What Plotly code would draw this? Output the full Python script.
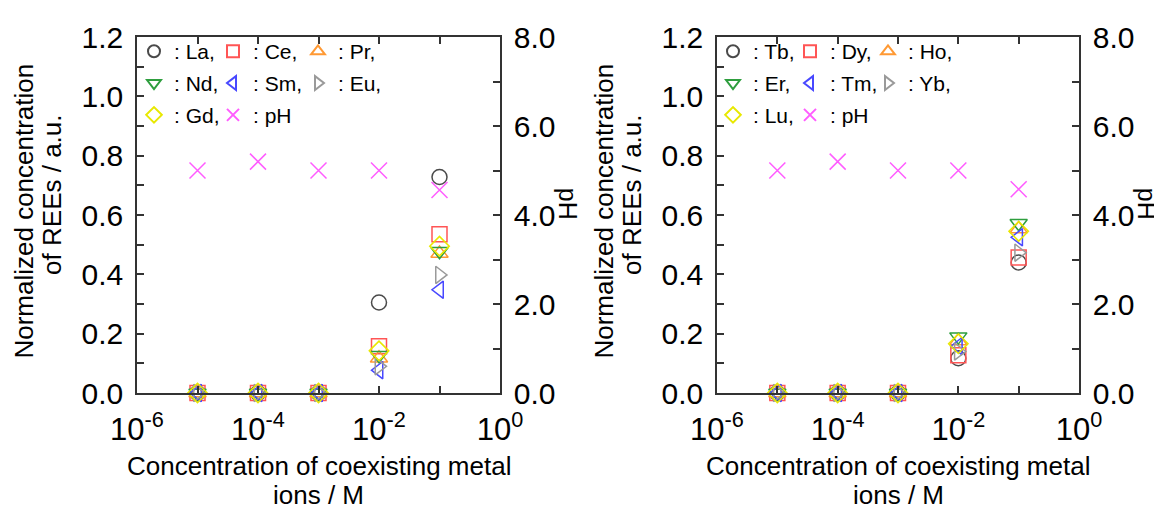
import plotly.graph_objects as go

# ---------------- data ----------------
conc = [1e-5, 1e-4, 1e-3, 1e-2, 1e-1]

left_names = ["La", "Ce", "Pr", "Nd", "Sm", "Eu", "Gd"]
La = [0, 0, 0, 0.305, 0.728]
Ce = [0, 0, 0, 0.158, 0.535]
Pr = [0, 0, 0, 0.117, 0.470]
Nd = [0, 0, 0, 0.127, 0.478]
Sm = [0, 0, 0, 0.077, 0.348]
Eu = [0, 0, 0, 0.090, 0.398]
Gd = [0, 0, 0, 0.142, 0.495]
pH_left = [5.0, 5.2, 5.0, 5.0, 4.56]

right_names = ["Tb", "Dy", "Ho", "Er", "Tm", "Yb", "Lu"]
Tb = [0, 0, 0, 0.117, 0.440]
Dy = [0, 0, 0, 0.127, 0.457]
Ho = [0, 0, 0, 0.175, 0.553]
Er = [0, 0, 0, 0.190, 0.572]
Tm = [0, 0, 0, 0.158, 0.525]
Yb = [0, 0, 0, 0.140, 0.473]
Lu = [0, 0, 0, 0.166, 0.545]
pH_right = [5.0, 5.2, 5.0, 5.0, 4.58]

x_tickvals = [1e-6, 1e-5, 1e-4, 1e-3, 1e-2, 1e-1, 1e0]
x_ticktext = ["10<sup>-6</sup>", "", "10<sup>-4</sup>", "", "10<sup>-2</sup>", "", "10<sup>0</sup>"]

# ---------------- style ----------------
FONT = "Arial, Liberation Sans, sans-serif"
symbols = ["circle-open", "square-open", "triangle-up-open", "triangle-down-open",
           "triangle-left-open", "triangle-right-open", "diamond-open"]
colors = ["#4a4a4a", "#ff5555", "#ff9933", "#2e9e3e", "#4848ff", "#9a9a9a", "#e8e800"]
PH_COLOR = "#ff5cff"
col_of = [0, 1, 2, 0, 1, 2, 0]
PH_COL = 1

L, R, T, B = 129, 1071, 22, 385
W, H = R - L, B - T


def fx(px):
    return (px - L) / W


def fy(py):
    return (B - py) / H


fig = go.Figure()

panels = [
    dict(names=left_names, series=[La, Ce, Pr, Nd, Sm, Eu, Gd], ph=pH_left,
         xa="x", ya="y", ya2="y2", leg=["legend", "legend2", "legend3"], tag="L"),
    dict(names=right_names, series=[Tb, Dy, Ho, Er, Tm, Yb, Lu], ph=pH_right,
         xa="x2", ya="y3", ya2="y4", leg=["legend4", "legend5", "legend6"], tag="R"),
]

for p in panels:
    for i, (nm, vals) in enumerate(zip(p["names"], p["series"])):
        fig.add_trace(go.Scatter(
            x=conc, y=vals, mode="markers", name=": " + nm + ",",
            xaxis=p["xa"], yaxis=p["ya"], cliponaxis=False,
            legend=p["leg"][col_of[i]], legendgroup=p["tag"] + nm,
            marker=dict(symbol=symbols[i], size=15, color=colors[i],
                        line=dict(color=colors[i], width=1.5)),
        ))
    fig.add_trace(go.Scatter(
        x=conc, y=p["ph"], mode="markers", name=": pH",
        xaxis=p["xa"], yaxis=p["ya2"], cliponaxis=False,
        legend=p["leg"][PH_COL], legendgroup=p["tag"] + "pH",
        marker=dict(symbol="x-thin", size=16, color=PH_COLOR,
                    line=dict(color=PH_COLOR, width=1.5)),
    ))

axis_common = dict(showline=True, linecolor="#333333", linewidth=1.5,
                   ticks="inside", ticklen=7, tickwidth=1.5, tickcolor="#333333",
                   showgrid=False, zeroline=False,
                   tickfont=dict(family=FONT, size=30, color="black"))

xcommon = dict(axis_common, type="log", range=[-6, 0], tickmode="array",
               tickvals=x_tickvals, ticktext=x_ticktext, mirror="ticks",
               ticklabelstandoff=8,
               tickfont=dict(family=FONT, size=31, color="black"))

d1 = [0, fx(492)]
d2 = [fx(709), 1]

ycommon = dict(axis_common, range=[0, 1.2], dtick=0.2, tick0=0, tickformat=".1f",
               ticklabelstandoff=6,
               minor=dict(dtick=0.1, ticks="inside", ticklen=7, tickwidth=1.5,
                          tickcolor="#333333"))
phcommon = dict(axis_common, range=[0, 8], dtick=2, tick0=0, tickformat=".1f",
                side="right", ticklabelstandoff=6,
                minor=dict(dtick=1, ticks="inside", ticklen=7, tickwidth=1.5,
                           tickcolor="#333333"))

fig.update_layout(
    width=1162, height=508,
    margin=dict(l=L, r=1162 - R, t=T, b=508 - B),
    paper_bgcolor="white", plot_bgcolor="white",
    font=dict(family=FONT, color="black"),
    xaxis=dict(xcommon, domain=d1, anchor="y"),
    yaxis=dict(ycommon, anchor="x"),
    yaxis2=dict(phcommon, anchor="x", overlaying="y"),
    xaxis2=dict(xcommon, domain=d2, anchor="y3"),
    yaxis3=dict(ycommon, anchor="x2"),
    yaxis4=dict(phcommon, anchor="x2", overlaying="y3"),
    showlegend=True,
)

leg_common = dict(orientation="v", bgcolor="rgba(0,0,0,0)", borderwidth=0,
                  font=dict(family=FONT, size=21, color="black"),
                  itemsizing="constant", xanchor="left", yanchor="top",
                  tracegroupgap=1.5, itemclick=False, itemdoubleclick=False)
left_cols = [126, 205, 290]
right_cols = [705, 782, 860]
for k, name in enumerate(["legend", "legend2", "legend3"]):
    fig.update_layout({name: dict(leg_common, x=fx(left_cols[k]), y=fy(16))})
for k, name in enumerate(["legend4", "legend5", "legend6"]):
    fig.update_layout({name: dict(leg_common, x=fx(right_cols[k]), y=fy(16))})

ann = []
title_font = dict(family=FONT, size=26, color="black")
for cx, phx in [(310.5, 560), (890, 1139)]:
    ann.append(dict(text="Concentration of coexisting metal", x=fx(cx), y=fy(459),
                    xref="paper", yref="paper", showarrow=False, font=title_font,
                    xanchor="center", yanchor="middle"))
    ann.append(dict(text="ions / M", x=fx(cx), y=fy(489),
                    xref="paper", yref="paper", showarrow=False, font=title_font,
                    xanchor="center", yanchor="middle"))
    ann.append(dict(text="pH", x=fx(phx), y=fy(192), textangle=90,
                    xref="paper", yref="paper", showarrow=False,
                    font=dict(family=FONT, size=25, color="black"),
                    xanchor="center", yanchor="middle"))
for lx in [0, 580]:
    ann.append(dict(text="Normalized concentration", x=fx(lx + 16), y=fy(200), textangle=-90,
                    xref="paper", yref="paper", showarrow=False, font=title_font,
                    xanchor="center", yanchor="middle"))
    ann.append(dict(text="of REEs / a.u.", x=fx(lx + 44), y=fy(183), textangle=-90,
                    xref="paper", yref="paper", showarrow=False, font=title_font,
                    xanchor="center", yanchor="middle"))
fig.update_layout(annotations=ann)

fig.write_html("out.html")
